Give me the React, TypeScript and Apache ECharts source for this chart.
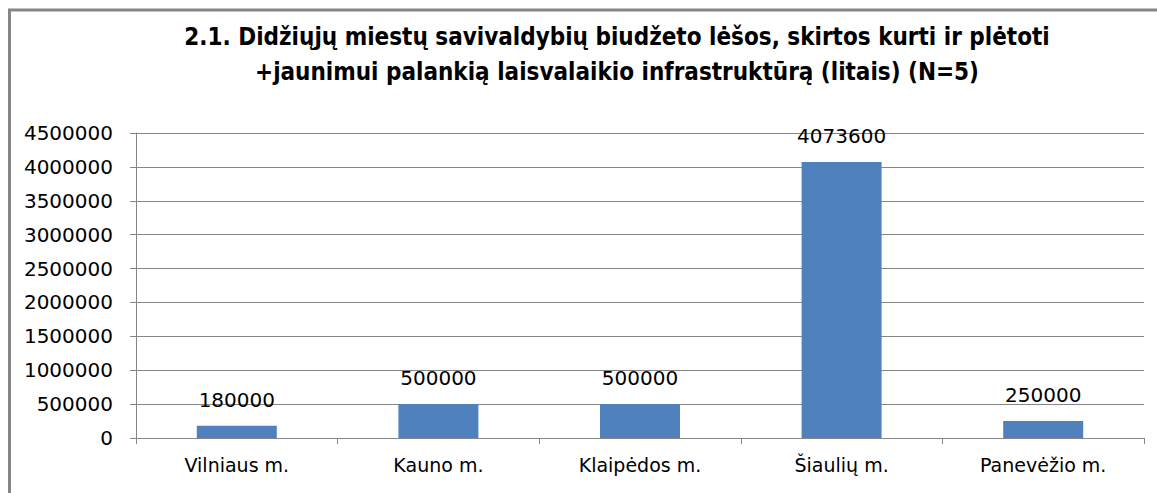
import React, { useEffect, useRef } from "react";
import * as echarts from "echarts";

const categories = ["Vilniaus m.", "Kauno m.", "Klaipėdos m.", "Šiaulių m.", "Panevėžio m."];
const values = [180000, 500000, 500000, 4073600, 250000];
const titleLines = [
  "2.1. Didžiųjų miestų savivaldybių biudžeto lėšos, skirtos kurti ir plėtoti",
  "+jaunimui palankią laisvalaikio infrastruktūrą (litais) (N=5)",
];

const FONT = "DejaVu Sans";
const GRAY = "#868686";

export default function App() {
  const ref = useRef<HTMLDivElement>(null);
  useEffect(() => {
    if (!ref.current) return;
    const chart = echarts.init(ref.current, null, { renderer: "svg" });
    chart.setOption({
      animation: false,
      backgroundColor: "#ffffff",
      grid: { left: 136, right: 13, top: 133, bottom: 55, containLabel: false },
      graphic: [
        {
          type: "rect",
          shape: { x: 9.5, y: 10, width: 1300, height: 700 },
          style: { fill: "none", stroke: GRAY, lineWidth: 3 },
          silent: true,
        },
        {
          type: "text",
          x: 617,
          y: 19.5,
          style: {
            text: titleLines.join("\n"),
            fontFamily: "'DejaVu Sans Condensed', 'Liberation Sans Narrow', 'DejaVu Sans'",
            fontWeight: "bold",
            fontSize: 24,
            lineHeight: 35,
            fill: "#000",
            textAlign: "center",
            textVerticalAlign: "top",
          },
        },
      ],
      xAxis: {
        type: "category",
        data: categories,
        boundaryGap: true,
        axisLine: { show: true, lineStyle: { color: GRAY, width: 1 } },
        axisTick: { show: true, length: 6, alignWithLabel: false, lineStyle: { color: GRAY } },
        axisLabel: { fontFamily: FONT, fontSize: 19, color: "#000", margin: 17, interval: 0 },
      },
      yAxis: {
        type: "value",
        min: 0,
        max: 4500000,
        interval: 500000,
        axisLine: { show: true, lineStyle: { color: GRAY, width: 1 } },
        axisTick: { show: true, length: 6, lineStyle: { color: GRAY } },
        axisLabel: {
          fontFamily: FONT,
          fontSize: 20,
          color: "#000",
          margin: 23,
          formatter: (v: number) => String(v),
        },
        splitLine: { show: true, lineStyle: { color: GRAY, width: 1 } },
      },
      series: [
        {
          type: "bar",
          data: values,
          barWidth: 80,
          itemStyle: { color: "#4f81bd" },
          label: {
            show: true,
            position: "top",
            distance: 16,
            fontFamily: FONT,
            fontSize: 20,
            color: "#000",
            formatter: (p: any) => String(p.value),
          },
        },
      ],
    });
    return () => chart.dispose();
  }, []);
  return (
    <div
      ref={ref}
      style={{ position: "fixed", left: 0, top: 0, width: 1157, height: 493 }}
    />
  );
}
